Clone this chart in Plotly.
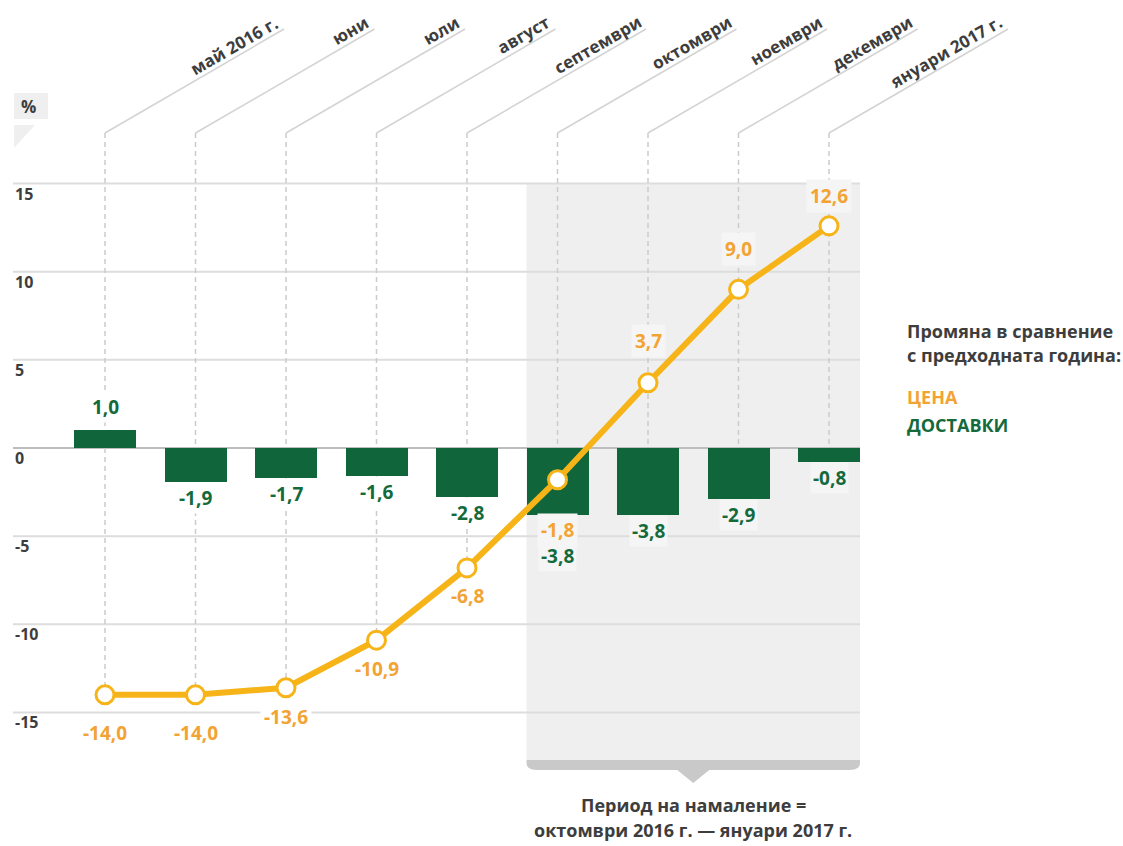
import math
import plotly.graph_objects as go

# ---------------- data ----------------
months = ["май 2016 г.", "юни", "юли", "август", "септември",
          "октомври", "ноември", "декември", "януари 2017 г."]
price = [-14.0, -14.0, -13.6, -10.9, -6.8, -1.8, 3.7, 9.0, 12.6]        # ЦЕНА
deliveries = [1.0, -1.9, -1.7, -1.6, -2.8, -3.8, -3.8, -2.9, -0.8]       # ДОСТАВКИ
y_ticks = [15, 10, 5, 0, -5, -10, -15]
period_start, period_end = 5, 8          # октомври 2016 г. — януари 2017 г.

# label offsets (pixels, + = up)
price_label_shift = [-38, -38, -29, -29, -28, -50, 42, 40, 30]
deliv_label_shift = [23, -16, -16, -16, -16, -41, -16, -16, -16]
price_label_boxed = [True, True, True, False, False, True, True, True, True]

# ---------------- geometry / style ----------------
W, H = 1123, 846
X0_PX, X_STEP = 105, 90.5     # pixel of first category, px per category
Y0_PX, Y_STEP = 448, 17.63    # pixel of value 0, px per unit


def px_x(p):
    return (p - X0_PX) / X_STEP


def px_y(p):
    return (Y0_PX - p) / Y_STEP


GREEN = "#11653a"
GREEN_TXT = "#146a3b"
ORANGE = "#f6b418"
ORANGE_TXT = "#f2a332"
GRID = "#dddddd"
ZERO = "#bdbdbd"
SHADE = "#efefef"
BOX_IN_SHADE = "#f5f5f5"
TEXT = "#3d3d3d"
FONT = "Open Sans"
BAR_W = 0.685
HB = BAR_W / 2
MONTH_FS = 17

# approximate advance widths (em) of the bold font, for placing rotated labels
CHAR_EM = {" ": 0.26, ".": 0.29, "а": 0.57, "в": 0.58, "г": 0.45, "д": 0.6, "е": 0.56,
           "и": 0.64, "й": 0.64, "к": 0.6, "л": 0.62, "м": 0.77, "н": 0.64, "о": 0.59,
           "п": 0.64, "р": 0.61, "с": 0.48, "т": 0.51, "у": 0.55, "ю": 0.84, "я": 0.59}


def text_len(s, fs):
    return sum(CHAR_EM.get(c, 0.572) for c in s) * fs


def fmt(v):
    return f"{v:.1f}".replace(".", ",")


def in_period(i):
    return period_start <= i <= period_end


n = len(months)
xs = list(range(n))

fig = go.Figure()

fig.add_trace(go.Bar(
    x=xs, y=deliveries, width=BAR_W,
    marker=dict(color=GREEN, line=dict(width=0)),
    hoverinfo="skip", showlegend=False,
))
fig.add_trace(go.Scatter(
    x=xs, y=price, mode="lines+markers",
    line=dict(color=ORANGE, width=6),
    marker=dict(size=18, color="white", line=dict(color=ORANGE, width=3)),
    hoverinfo="skip", showlegend=False, cliponaxis=False,
))

shapes = []
# shaded period
y_shade_bottom = px_y(760)
shapes.append(dict(type="rect", xref="x", yref="y", layer="below",
                   x0=period_start - HB, x1=period_end + HB,
                   y0=y_shade_bottom, y1=max(y_ticks),
                   fillcolor=SHADE, line=dict(width=0)))
# bracket below shaded period
xl, xr = period_start - HB, period_end + HB
xm = (xl + xr) / 2
r = 10 / X_STEP
yb0, yb1, ytip = px_y(760), px_y(770), px_y(783)
tw = 16 / X_STEP
path = (f"M {xl},{yb0} L {xl},{px_y(763)} Q {xl},{yb1} {xl + r},{yb1} "
        f"L {xm - tw},{yb1} L {xm},{ytip} L {xm + tw},{yb1} "
        f"L {xr - r},{yb1} Q {xr},{yb1} {xr},{px_y(763)} L {xr},{yb0} Z")
shapes.append(dict(type="path", xref="x", yref="y", path=path, layer="below",
                   fillcolor="#c9c9c9", line=dict(width=0)))
# gridlines
for v in y_ticks:
    shapes.append(dict(type="line", xref="x", yref="y", layer="below",
                       x0=px_x(13), x1=period_end + HB, y0=v, y1=v,
                       line=dict(color=ZERO if v == 0 else GRID, width=2)))
# dashed guides + diagonal leaders
y_top = px_y(133)
dx, dy = 179 / X_STEP, 104 / Y_STEP
for i in xs:
    shapes.append(dict(type="line", xref="x", yref="y", layer="below",
                       x0=i, x1=i, y0=y_top, y1=min(price[i], 0),
                       line=dict(color="#cbcbcb", width=1.5, dash="5px,4px")))
    shapes.append(dict(type="line", xref="x", yref="y", layer="below",
                       x0=i, x1=i + dx, y0=y_top, y1=y_top + dy,
                       line=dict(color="#d3d3d3", width=1.5)))
# "%" box and little triangle
shapes.append(dict(type="rect", xref="x", yref="y", layer="below",
                   x0=px_x(14), x1=px_x(48), y0=px_y(119), y1=px_y(93),
                   fillcolor=SHADE, line=dict(width=0)))
shapes.append(dict(type="path", xref="x", yref="y", layer="below",
                   path=f"M {px_x(14)},{px_y(125)} L {px_x(35)},{px_y(125)} L {px_x(14)},{px_y(148)} Z",
                   fillcolor=SHADE, line=dict(width=0)))

ann = []
# y-axis labels
for v in y_ticks:
    ann.append(dict(x=px_x(13), y=v, yshift=-10, text=str(v), showarrow=False,
                    xanchor="left", yanchor="middle",
                    font=dict(family=FONT, size=16, color=TEXT, weight=700)))
ann.append(dict(x=px_x(28), y=px_y(106), text="%", showarrow=False,
                font=dict(family=FONT, size=17, color=TEXT, weight=700)))
# month labels: rotated -30 deg, sitting on the leader, ending near its top
ang = math.radians(30)
box_h = 24
for i, m in enumerate(months):
    L = text_len(m, MONTH_FS)
    ex = X0_PX + i * X_STEP + 176      # bottom-right corner of text box (px)
    ey = 32
    cx = ex - (L / 2) * math.cos(ang) - (box_h / 2) * math.sin(ang)
    cy = ey + (L / 2) * math.sin(ang) - (box_h / 2) * math.cos(ang)
    ann.append(dict(x=px_x(cx), y=px_y(cy), text=m, showarrow=False,
                    xanchor="center", yanchor="middle", textangle=-30,
                    font=dict(family=FONT, size=MONTH_FS, color=TEXT, weight=700)))
# delivery labels
for i, v in enumerate(deliveries):
    ann.append(dict(x=i, y=v, yshift=deliv_label_shift[i], text=fmt(v), showarrow=False,
                    bgcolor=BOX_IN_SHADE if in_period(i) else "white",
                    borderpad=2,
                    font=dict(family=FONT, size=19, color=GREEN_TXT, weight=700)))
# price labels
for i, v in enumerate(price):
    bg = (BOX_IN_SHADE if in_period(i) else "white") if price_label_boxed[i] else "rgba(0,0,0,0)"
    ann.append(dict(x=i, y=v, yshift=price_label_shift[i], text=fmt(v), showarrow=False,
                    bgcolor=bg, borderpad=3,
                    font=dict(family=FONT, size=19, color=ORANGE_TXT, weight=700)))
# legend block
leg_x = px_x(905)
for text, ypx, col in [("Промяна в сравнение", 331, TEXT),
                       ("с предходната година:", 355, TEXT),
                       ("ЦЕНА", 397, ORANGE_TXT),
                       ("ДОСТАВКИ", 425, GREEN_TXT)]:
    ann.append(dict(x=leg_x, y=px_y(ypx), text=text, showarrow=False,
                    xanchor="left", yanchor="middle",
                    font=dict(family=FONT, size=18, color=col, weight=700)))
# period caption
for text, ypx in [("Период на намаление =", 805),
                  ("октомври 2016 г. — януари 2017 г.", 830)]:
    ann.append(dict(x=xm, y=px_y(ypx), text=text, showarrow=False,
                    xanchor="center", yanchor="middle",
                    font=dict(family=FONT, size=18, color=TEXT, weight=700)))

fig.update_layout(
    width=W, height=H,
    margin=dict(l=0, r=0, t=0, b=0, pad=0),
    paper_bgcolor="white", plot_bgcolor="white",
    xaxis=dict(range=[px_x(0), px_x(W)], visible=False, fixedrange=True),
    yaxis=dict(range=[px_y(H), px_y(0)], visible=False, fixedrange=True),
    shapes=shapes, annotations=ann, bargap=0, showlegend=False,
)

fig.write_html("out.html")
